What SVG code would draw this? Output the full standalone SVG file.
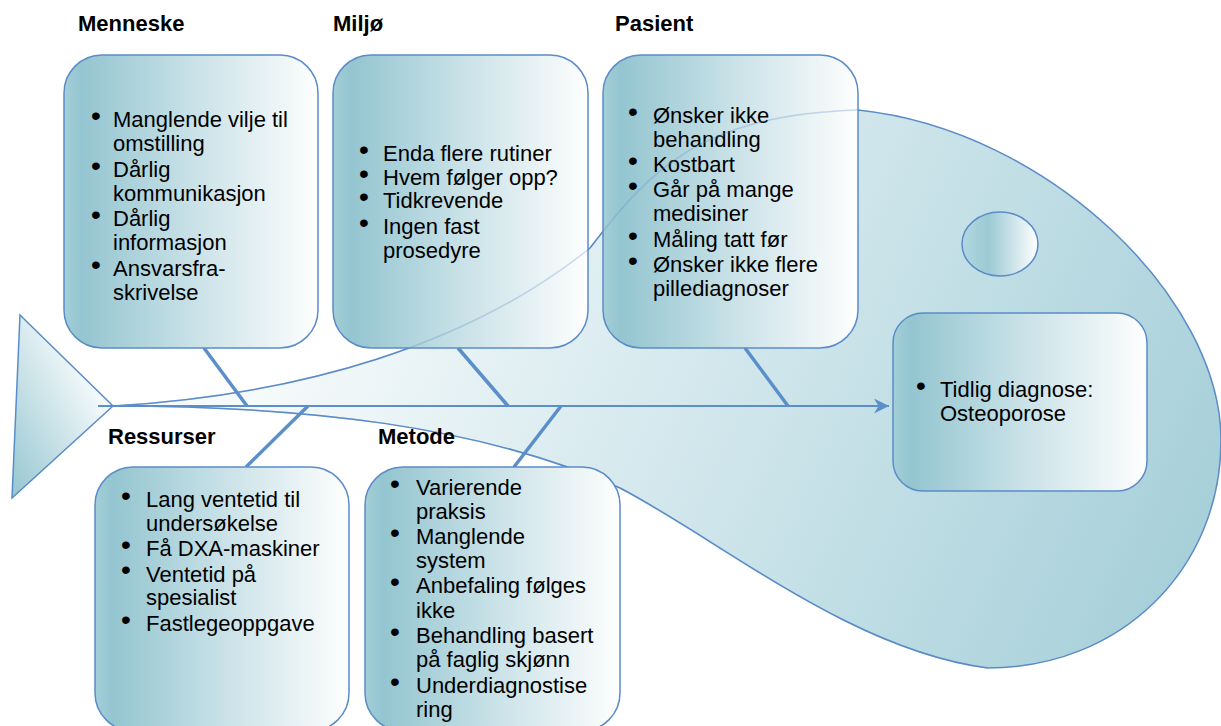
<svg xmlns="http://www.w3.org/2000/svg" width="1221" height="726" viewBox="0 0 1221 726">
<defs>
<linearGradient id="gBox" x1="0" y1="0" x2="1" y2="0">
<stop offset="0" stop-color="#a3cfd8"/>
<stop offset="0.07" stop-color="#94c5d0"/>
<stop offset="0.5" stop-color="#c8e1e7"/>
<stop offset="0.9" stop-color="#f3f8f9"/>
<stop offset="1" stop-color="#ffffff"/>
</linearGradient>
<linearGradient id="gEye" x1="0" y1="0" x2="1" y2="0">
<stop offset="0" stop-color="#b2d7df"/>
<stop offset="0.35" stop-color="#9ccad4"/>
<stop offset="1" stop-color="#ffffff"/>
</linearGradient>
<linearGradient id="gTail" x1="1" y1="0" x2="0" y2="1">
<stop offset="0.2" stop-color="#ffffff"/>
<stop offset="1" stop-color="#95c6d1"/>
</linearGradient>
<linearGradient id="gBody" gradientUnits="userSpaceOnUse" x1="300" y1="280" x2="1200" y2="680">
<stop offset="0" stop-color="#f6fafb"/>
<stop offset="0.5" stop-color="#cce4ea"/>
<stop offset="1" stop-color="#a2cdd7"/>
</linearGradient>
<marker id="arr" viewBox="0 0 10 10" refX="10" refY="5" markerUnits="userSpaceOnUse" markerWidth="15" markerHeight="15" orient="auto">
<path d="M0,0 L10,5 L0,10 L3,5 z" fill="#5b8fc9"/>
</marker>
<style>
.box{fill:url(#gBox);stroke:#5b8cc8;stroke-width:1.5}
.t{font-family:"Liberation Sans",Arial,sans-serif;font-size:22px;fill:#000}
.h{font-family:"Liberation Sans",Arial,sans-serif;font-size:22px;font-weight:bold;fill:#000}
.b{font-family:"Liberation Sans",Arial,sans-serif;font-size:21px;fill:#000;stroke:#000;stroke-width:2;text-anchor:middle}
.bone{stroke:#5b8fc9;stroke-width:3.5;fill:none;stroke-linecap:butt}
.outline{fill:none;stroke:#5b8cc8;stroke-width:1.5}
</style>
</defs>
<rect width="1221" height="726" fill="#ffffff"/>

<g id="fish-body">
<path id="bodyPath" d="M113,406 C300,395 470,345 590,248 C650,170 700,115 858,110 C1050,130 1221,300 1221,440 C1221,570 1120,668 988,668 C850,650 720,540 620,488 C480,425 300,406 113,406 Z" fill="url(#gBody)" stroke="#5b8cc8" stroke-width="1.5"/>
</g>

<g id="tail">
<polygon points="20,315 113,406 12,498" fill="url(#gTail)" stroke="#5b8cc8" stroke-width="1.5"/>
</g>

<g id="eye">
<ellipse cx="1000" cy="244" rx="38" ry="32" fill="url(#gEye)" stroke="#5b8cc8" stroke-width="1.5"/>
</g>

<g id="connectors">
<line x1="98" y1="406" x2="889" y2="406" stroke="#5b8fc9" stroke-width="2" marker-end="url(#arr)"/>
<line class="bone" x1="204" y1="348" x2="247" y2="406"/>
<line class="bone" x1="458" y1="348" x2="508" y2="406"/>
<line class="bone" x1="745" y1="348" x2="788" y2="406"/>
<line class="bone" x1="308" y1="406" x2="246" y2="467"/>
<line class="bone" x1="561" y1="406" x2="514" y2="467"/>
</g>

<g id="menneske">
<text class="h" x="78" y="31">Menneske</text>
<rect class="box" x="64" y="55" width="254" height="293" rx="38"/>
<text class="b" x="96" y="122.5">•</text>
<text class="t" x="113" y="127">Manglende vilje til</text>
<text class="t" x="113" y="151">omstilling</text>
<text class="b" x="96" y="172.5">•</text>
<text class="t" x="113" y="177">Dårlig</text>
<text class="t" x="113" y="201">kommunikasjon</text>
<text class="b" x="96" y="221.5">•</text>
<text class="t" x="113" y="226">Dårlig</text>
<text class="t" x="113" y="250">informasjon</text>
<text class="b" x="96" y="271.5">•</text>
<text class="t" x="113" y="276">Ansvarsfra-</text>
<text class="t" x="113" y="300">skrivelse</text>
</g>

<g id="miljo">
<text class="h" x="333" y="31">Miljø</text>
<rect class="box" x="333" y="55" width="255" height="293" rx="38"/>
<text class="b" x="364" y="156.5">•</text>
<text class="t" x="383" y="161">Enda flere rutiner</text>
<text class="b" x="364" y="180.5">•</text>
<text class="t" x="383" y="185">Hvem følger opp?</text>
<text class="b" x="364" y="203.5">•</text>
<text class="t" x="383" y="208">Tidkrevende</text>
<text class="b" x="364" y="229.5">•</text>
<text class="t" x="383" y="234">Ingen fast</text>
<text class="t" x="383" y="258">prosedyre</text>
</g>

<g id="pasient">
<text class="h" x="615" y="31">Pasient</text>
<rect class="box" x="603" y="55" width="255" height="293" rx="38"/>
<text class="b" x="633" y="118.5">•</text>
<text class="t" x="653" y="123">Ønsker ikke</text>
<text class="t" x="653" y="147">behandling</text>
<text class="b" x="633" y="167.5">•</text>
<text class="t" x="653" y="172">Kostbart</text>
<text class="b" x="633" y="192.5">•</text>
<text class="t" x="653" y="197">Går på mange</text>
<text class="t" x="653" y="221">medisiner</text>
<text class="b" x="633" y="242.5">•</text>
<text class="t" x="653" y="247">Måling tatt før</text>
<text class="b" x="633" y="267.5">•</text>
<text class="t" x="653" y="272">Ønsker ikke flere</text>
<text class="t" x="653" y="296">pillediagnoser</text>
</g>

<g id="body-outline-overlay" opacity="0.3">
<path d="M113,406 C300,395 470,345 590,248 C650,170 700,115 858,110" class="outline"/>
<path d="M988,668 C850,650 720,540 620,488 C480,425 300,406 113,406" class="outline"/>
</g>

<g id="ressurser">
<text class="h" x="108" y="444">Ressurser</text>
<rect class="box" x="95" y="467" width="254" height="264" rx="38"/>
<text class="b" x="126" y="502.5">•</text>
<text class="t" x="146" y="507">Lang ventetid til</text>
<text class="t" x="146" y="531">undersøkelse</text>
<text class="b" x="126" y="551.5">•</text>
<text class="t" x="146" y="556">Få DXA-maskiner</text>
<text class="b" x="126" y="577">•</text>
<text class="t" x="146" y="581.5">Ventetid på</text>
<text class="t" x="146" y="605">spesialist</text>
<text class="b" x="126" y="626.5">•</text>
<text class="t" x="146" y="631">Fastlegeoppgave</text>
</g>

<g id="metode">
<text class="h" x="378" y="444">Metode</text>
<rect class="box" x="365" y="467" width="255" height="264" rx="38"/>
<text class="b" x="395" y="490.5">•</text>
<text class="t" x="416" y="495">Varierende</text>
<text class="t" x="416" y="519">praksis</text>
<text class="b" x="395" y="539.5">•</text>
<text class="t" x="416" y="544">Manglende</text>
<text class="t" x="416" y="568">system</text>
<text class="b" x="395" y="588.5">•</text>
<text class="t" x="416" y="593">Anbefaling følges</text>
<text class="t" x="416" y="618">ikke</text>
<text class="b" x="395" y="638.5">•</text>
<text class="t" x="416" y="643">Behandling basert</text>
<text class="t" x="416" y="667">på faglig skjønn</text>
<text class="b" x="395" y="688.5">•</text>
<text class="t" x="416" y="693">Underdiagnostise</text>
<text class="t" x="416" y="717">ring</text>
</g>

<g id="resultat">
<rect class="box" x="893" y="313" width="254" height="178" rx="30"/>
<text class="b" x="921" y="392.5">•</text>
<text class="t" x="940" y="397">Tidlig diagnose:</text>
<text class="t" x="940" y="421">Osteoporose</text>
</g>
</svg>
